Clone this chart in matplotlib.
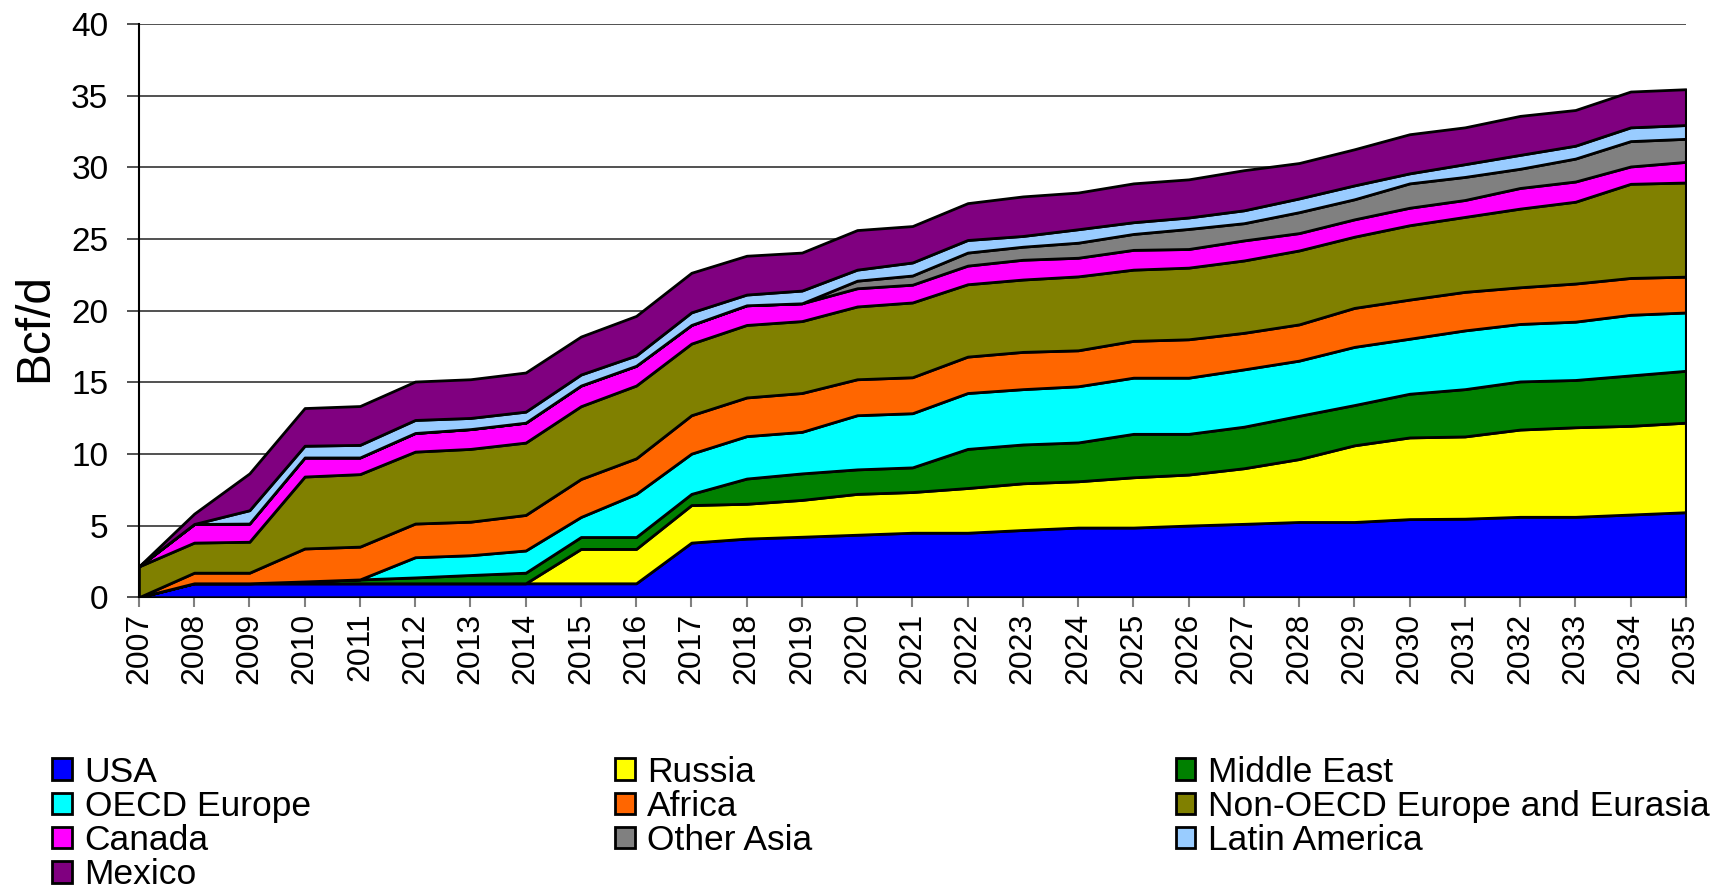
import matplotlib
matplotlib.use("Agg")
import matplotlib.pyplot as plt

plt.rcParams['font.family'] = ['Liberation Sans', 'DejaVu Sans']

years = list(range(2007, 2036))

usa = [0, 0.97, 0.97, 0.97, 0.97, 0.97, 0.97, 0.97, 0.97, 0.97, 3.81, 4.09, 4.22, 4.36, 4.50,
       4.50, 4.69, 4.86, 4.86, 5.00, 5.12, 5.25, 5.25, 5.45, 5.48, 5.61, 5.61, 5.77, 5.93]
russia = [0, 0, 0, 0, 0, 0, 0, 0, 2.40, 2.40, 2.62, 2.43, 2.57, 2.85, 2.84,
          3.12, 3.26, 3.23, 3.51, 3.56, 3.88, 4.39, 5.35, 5.70, 5.74, 6.09, 6.25, 6.19, 6.25]
middle_east = [0, 0, 0, 0.13, 0.27, 0.41, 0.58, 0.74, 0.83, 0.83, 0.78, 1.76, 1.85, 1.71, 1.72,
               2.73, 2.71, 2.71, 3.03, 2.84, 2.90, 3.02, 2.81, 3.05, 3.30, 3.36, 3.30, 3.52, 3.62]
oecd_europe = [0, 0, 0, 0, 0, 1.41, 1.38, 1.55, 1.40, 3.01, 2.81, 2.96, 2.90, 3.78, 3.78,
               3.90, 3.86, 3.92, 3.92, 3.92, 4.00, 3.85, 4.06, 3.84, 4.10, 4.01, 4.07, 4.23, 4.07]
africa = [0, 0.74, 0.74, 2.30, 2.29, 2.35, 2.34, 2.48, 2.65, 2.48, 2.68, 2.70, 2.71, 2.51, 2.51,
          2.54, 2.60, 2.51, 2.57, 2.68, 2.55, 2.53, 2.72, 2.73, 2.69, 2.56, 2.66, 2.57, 2.50]
non_oecd = [2.15, 2.10, 2.16, 5.02, 5.06, 5.02, 5.08, 5.05, 5.08, 5.08, 5.00, 5.06, 5.02, 5.08, 5.22,
            5.05, 5.05, 5.16, 4.97, 5.00, 5.05, 5.16, 4.97, 5.19, 5.23, 5.49, 5.71, 6.57, 6.57]
canada = [0, 1.30, 1.27, 1.33, 1.16, 1.30, 1.38, 1.39, 1.44, 1.38, 1.30, 1.37, 1.24, 1.27, 1.24,
          1.30, 1.38, 1.30, 1.38, 1.30, 1.40, 1.21, 1.21, 1.22, 1.18, 1.44, 1.41, 1.21, 1.44]
other_asia = [0, 0, 0, 0, 0, 0, 0, 0, 0, 0, 0, 0, 0, 0.53, 0.64,
              0.91, 0.91, 1.05, 1.11, 1.40, 1.20, 1.46, 1.40, 1.70, 1.61, 1.34, 1.60, 1.77, 1.61]
latin_america = [0, 0, 0.93, 0.82, 0.88, 0.91, 0.78, 0.77, 0.77, 0.72, 0.88, 0.75, 0.89, 0.77, 0.91,
                 0.88, 0.75, 0.94, 0.82, 0.80, 0.90, 0.96, 0.97, 0.70, 0.89, 0.97, 0.90, 0.96, 0.96]
mexico = [0, 0.72, 2.57, 2.63, 2.71, 2.68, 2.70, 2.73, 2.65, 2.76, 2.76, 2.71, 2.65, 2.76, 2.54,
          2.57, 2.76, 2.56, 2.71, 2.66, 2.80, 2.47, 2.52, 2.73, 2.57, 2.72, 2.49, 2.50, 2.50]

labels = ["USA", "Russia", "Middle East", "OECD Europe", "Africa",
          "Non-OECD Europe and Eurasia", "Canada", "Other Asia", "Latin America", "Mexico"]
colors = ["#0000FF", "#FFFF00", "#008000", "#00FFFF", "#FF6600",
          "#808000", "#FF00FF", "#808080", "#99CCFF", "#800080"]
series = [usa, russia, middle_east, oecd_europe, africa,
          non_oecd, canada, other_asia, latin_america, mexico]

fig = plt.figure(figsize=(17.15, 8.9), dpi=100)
ax = fig.add_axes([0.081, 0.329, 0.902, 0.644])

polys = ax.stackplot(years, *series, labels=labels, colors=colors,
                     edgecolor="black", linewidth=2.0, zorder=3)

ax.set_xlim(2007, 2035)
ax.set_ylim(0, 40)
ax.set_yticks(range(0, 41, 5))
ax.set_xticks(years)
ax.set_xticklabels([str(y) for y in years], rotation=90, fontsize=23)
ax.tick_params(axis="y", labelsize=24, length=9, width=1.2, pad=13, color="#333333")
ax.tick_params(axis="x", length=7, width=1.5, pad=4, color="#808080")
ax.grid(axis="y", color="#333333", linewidth=1.2, zorder=1)
ax.set_axisbelow(True)

for side in ["top", "right"]:
    ax.spines[side].set_visible(False)
ax.spines["left"].set_linewidth(1.5)
ax.spines["bottom"].set_linewidth(1.5)

ax.set_ylabel("Bcf/d", fontsize=34.5)
ax.yaxis.set_label_coords(-0.053, 0.47)

# legend laid out row by row in three fixed columns
columns = [[0, 3, 6, 9], [1, 4, 7], [2, 5, 8]]
col_x = [0.0305, 0.3585, 0.6855]
for cx, idx in zip(col_x, columns):
    fig.legend([polys[i] for i in idx], [labels[i] for i in idx],
               loc="upper left", bbox_to_anchor=(cx, 0.151),
               frameon=False, fontsize=25.5, handlelength=0.56, handleheight=0.56,
               handletextpad=0.35, labelspacing=0.035, borderpad=0, borderaxespad=0)

fig.savefig("out.png", dpi=100)
